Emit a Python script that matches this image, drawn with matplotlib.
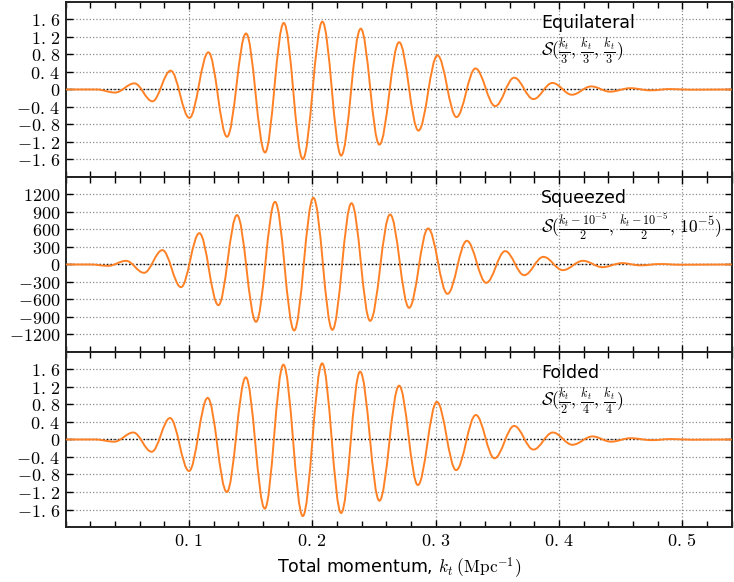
import matplotlib
matplotlib.use("Agg")
import matplotlib.pyplot as plt
from matplotlib.path import Path
from matplotlib.patches import PathPatch
from matplotlib.ticker import MultipleLocator, FuncFormatter

plt.rcParams["mathtext.fontset"] = "cm"

# extrema of the shape function (k_t in Mpc^-1, value)
eq_k = [0.0, 0.025, 0.0400, 0.0557, 0.0703, 0.0851, 0.1003, 0.1157, 0.1308, 0.1462,
        0.1616, 0.1768, 0.1922, 0.2081, 0.2233, 0.2392, 0.2543, 0.2703, 0.2860,
        0.3014, 0.3168, 0.3322, 0.3482, 0.3636, 0.3792, 0.3946, 0.4104, 0.4260,
        0.4414, 0.4577, 0.4740, 0.4900, 0.5060, 0.54]
eq_s = [0.0, 0.0, -0.07, 0.14, -0.27, 0.43, -0.65, 0.85, -1.08, 1.28,
        -1.44, 1.52, -1.59, 1.55, -1.51, 1.39, -1.26, 1.08, -0.94,
        0.78, -0.63, 0.48, -0.38, 0.27, -0.22, 0.15, -0.12, 0.07,
        -0.05, 0.03, -0.02, 0.01, -0.005, 0.0]

sq_k = [0.0, 0.020, 0.0346, 0.0489, 0.0635, 0.0784, 0.0935, 0.1084, 0.1238, 0.1389,
        0.1543, 0.1697, 0.1852, 0.2008, 0.2162, 0.2317, 0.2468, 0.2630, 0.2784,
        0.2938, 0.3095, 0.3252, 0.3409, 0.3563, 0.3717, 0.3873, 0.4030, 0.4193,
        0.4352, 0.4509, 0.4660, 0.4820, 0.4980, 0.54]
sq_s = [0.0, 0.0, -23, 63, -143, 246, -389, 537, -697, 846,
        -983, 1074, -1131, 1143, -1120, 1051, -966, 857, -743,
        617, -503, 406, -314, 229, -183, 131, -97, 63,
        -46, 23, -15, 8, -4, 0.0]

fo_k = [0.0, 0.024, 0.0394, 0.0548, 0.0697, 0.0846, 0.1000, 0.1151, 0.1306, 0.1460,
        0.1614, 0.1765, 0.1922, 0.2079, 0.2233, 0.2387, 0.2543, 0.2703, 0.2855,
        0.3009, 0.3165, 0.3325, 0.3476, 0.3636, 0.3792, 0.3949, 0.4108, 0.4271,
        0.4420, 0.4580, 0.4750, 0.4910, 0.5070, 0.54]
fo_s = [0.0, 0.0, -0.05, 0.16, -0.28, 0.49, -0.72, 0.95, -1.20, 1.42,
        -1.58, 1.71, -1.75, 1.74, -1.68, 1.55, -1.40, 1.23, -1.04,
        0.86, -0.70, 0.56, -0.43, 0.31, -0.23, 0.16, -0.12, 0.07,
        -0.05, 0.03, -0.015, 0.01, -0.005, 0.0]

names = ["Equilateral", "Squeezed", "Folded"]
formulas = [r"$\mathcal{S}(\frac{k_t}{3},\,\frac{k_t}{3},\,\frac{k_t}{3})$",
            r"$\mathcal{S}(\frac{k_t-10^{-5}}{2},\,\frac{k_t-10^{-5}}{2},\,10^{-5})$",
            r"$\mathcal{S}(\frac{k_t}{2},\,\frac{k_t}{4},\,\frac{k_t}{4})$"]
yticks = [[-1.6, -1.2, -0.8, -0.4, 0, 0.4, 0.8, 1.2, 1.6],
          [-1200, -900, -600, -300, 0, 300, 600, 900, 1200],
          [-1.6, -1.2, -0.8, -0.4, 0, 0.4, 0.8, 1.2, 1.6]]
ylims = [(-2, 2), (-1500, 1500), (-2, 2)]
xticks = [0.1, 0.2, 0.3, 0.4, 0.5]


def smooth_path(ks, vals):
    # cubic segments with flat tangents at every extremum
    verts = [(ks[0], vals[0])]
    codes = [Path.MOVETO]
    for i in range(len(ks) - 1):
        d = ks[i + 1] - ks[i]
        verts += [(ks[i] + 0.364 * d, vals[i]),
                  (ks[i + 1] - 0.364 * d, vals[i + 1]),
                  (ks[i + 1], vals[i + 1])]
        codes += [Path.CURVE4] * 3
    return Path(verts, codes)


def fmt(v, pos):
    if abs(v) < 1e-12:
        return r"$0$"
    return "$" + ("%g" % v).replace(".", r".\,") + "$"


fig, axes = plt.subplots(3, 1, sharex=True, figsize=(7.34, 5.82), dpi=100)
fig.subplots_adjust(left=0.0895, right=0.997, top=0.9966, bottom=0.0945, hspace=0)

data = [(eq_k, eq_s), (sq_k, sq_s), (fo_k, fo_s)]
for i, ax in enumerate(axes):
    ks, vals = data[i]
    ax.add_patch(PathPatch(smooth_path(ks, vals), fill=False,
                           edgecolor="#ff8125", lw=1.4, zorder=3))
    ax.axhline(0, color="black", ls=":", lw=1.0, zorder=2)
    ax.set_xlim(0, 0.54)
    ax.set_ylim(*ylims[i])
    ax.set_yticks(yticks[i])
    ax.yaxis.set_major_formatter(FuncFormatter(fmt))
    ax.set_xticks(xticks)
    ax.xaxis.set_minor_locator(MultipleLocator(0.02))
    ax.xaxis.set_major_formatter(FuncFormatter(fmt))
    ax.grid(True, which="major", color="#8c8c8c", ls=":", lw=0.9)
    ax.tick_params(which="both", direction="in", top=True, right=True,
                   labelsize=13, width=1)
    ax.tick_params(which="major", length=5)
    ax.tick_params(which="minor", length=4)
    for sp in ax.spines.values():
        sp.set_linewidth(1.4)
        sp.set_color("#222222")
    ax.text(0.714, 0.85, names[i], transform=ax.transAxes, fontsize=12.5,
            ha="left", va="baseline")
    ax.text(0.714, 0.715, formulas[i], transform=ax.transAxes, fontsize=12.5,
            ha="left", va="center")

axes[2].set_xlabel(r"Total momentum, $k_t\;(\mathrm{Mpc}^{-1})$", fontsize=12.5)

plt.savefig("out.png")
